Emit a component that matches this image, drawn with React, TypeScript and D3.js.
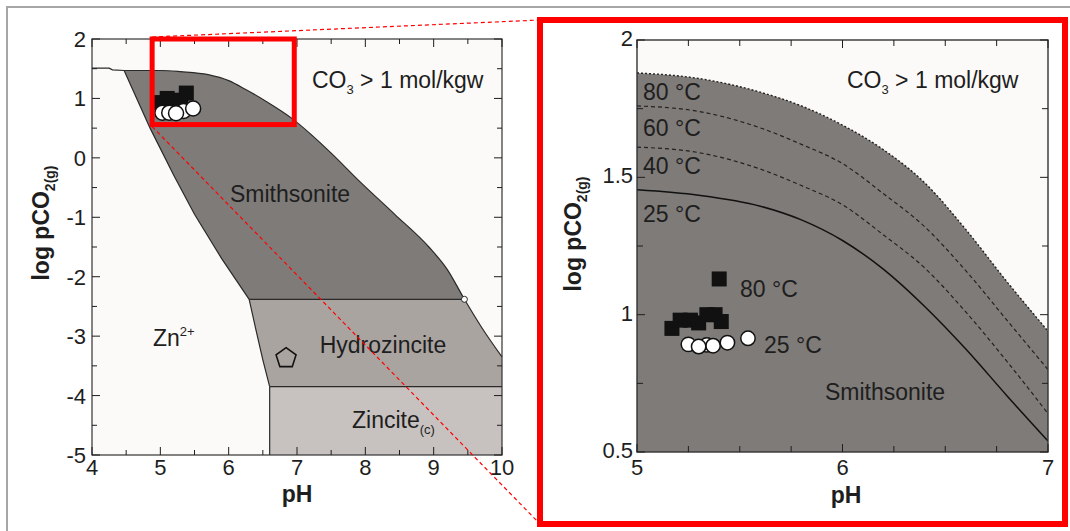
import React from 'react';
import * as d3 from 'd3';

const W = 1070;
const H = 531;
const FONT = '"Liberation Sans", Arial, Helvetica, sans-serif';

// ---- Overview phase diagram (pH vs log pCO2) ----
// Upper edge of the Zn2+ field at very low pH
const znTopEdge: number[][] = [[4.0, 1.51], [4.25, 1.51], [4.3, 1.48], [4.47, 1.47]];
// Upper stability limit of smithsonite / hydrozincite (CO3 > 1 mol/kgw)
const carbonateLimit: number[][] = [
  [4.47, 1.47], [5.0, 1.47], [5.3, 1.45], [5.7, 1.4], [6.0, 1.3], [6.25, 1.15],
  [6.55, 0.95], [6.93, 0.66], [7.2, 0.4], [7.5, 0.08], [7.92, -0.4], [8.43, -0.95],
  [8.93, -1.5], [9.2, -1.88], [9.45, -2.38], [9.7, -2.85], [10.0, -3.35],
];
// Zn2+ / smithsonite boundary
const smithsoniteLeft: number[][] = [[4.47, 1.47], [4.85, 0.5], [5.2, -0.3], [5.5, -0.95], [5.9, -1.7], [6.3, -2.38]];
// Zn2+ / hydrozincite boundary
const hydrozinciteLeft: number[][] = [[6.3, -2.38], [6.4, -2.9], [6.5, -3.4], [6.6, -3.85]];
const smithsoniteBase = -2.38;
const zinciteTop = -3.85;
const zinciteLeftPH = 6.6;
const triplePoint = [9.45, -2.38];
// Sample positions on the overview
const overviewSquares: number[][] = [[5.0, 0.93], [5.1, 1.0], [5.2, 0.97], [5.3, 0.96], [5.38, 1.09]];
const overviewCircles: number[][] = [[5.03, 0.76], [5.13, 0.76], [5.34, 0.79], [5.23, 0.75], [5.48, 0.83]];
const overviewPentagon = [6.84, -3.37];
// Zoom window drawn on the overview
const zoomWindow = { ph0: 4.88, ph1: 6.96, lp0: 0.56, lp1: 2.0 };

const leftXTicks = d3.range(4, 10.001, 0.5);
const leftYTicks = d3.range(-5, 2.001, 0.5);
const leftXLabels = [4, 5, 6, 7, 8, 9, 10];
const leftYLabels = [2, 1, 0, -1, -2, -3, -4, -5];

// ---- Detail view: smithsonite limits at several temperatures ----
const detailPH = [5.0, 5.3, 5.6, 5.8, 6.0, 6.2, 6.4, 6.6, 6.8, 7.0];
const limit25 = [1.455, 1.435, 1.395, 1.345, 1.27, 1.165, 1.03, 0.875, 0.705, 0.54];
const limit40 = [1.61, 1.59, 1.53, 1.47, 1.4, 1.29, 1.17, 1.01, 0.83, 0.64];
const limit60 = [1.76, 1.74, 1.68, 1.62, 1.55, 1.44, 1.32, 1.16, 0.98, 0.8];
const limit80 = [1.88, 1.86, 1.81, 1.76, 1.69, 1.6, 1.48, 1.31, 1.12, 0.94];
const tempLabels = [
  { text: '80 °C', lp: 1.81 },
  { text: '60 °C', lp: 1.68 },
  { text: '40 °C', lp: 1.54 },
  { text: '25 °C', lp: 1.365 },
];
// Samples at 80 °C (squares) and 25 °C (circles)
const samples80: number[][] = [
  [5.17, 0.95], [5.21, 0.98], [5.26, 0.98], [5.3, 0.97], [5.34, 1.0], [5.38, 1.0], [5.41, 0.975], [5.4, 1.13],
];
const samples25: number[][] = [
  [5.25, 0.892], [5.34, 0.89], [5.37, 0.887], [5.3, 0.884], [5.44, 0.898], [5.54, 0.914],
];

const rightXTicks = d3.range(5, 7.001, 0.25);
const rightYTicks = d3.range(0.5, 2.001, 0.25);
const rightXLabels = [5, 6, 7];
const rightYLabels = [0.5, 1, 1.5, 2];

const INK = '#1e1e1e';
const PLOT_BG = '#fcfaf8';
const SMITHSONITE = '#7f7b78';
const HYDROZINCITE = '#aaa4a1';
const ZINCITE = '#c7c2bf';
const RED = '#ff0000';

export default function App() {
  const lx = d3.scaleLinear().domain([4, 10]).range([92, 502]);
  const ly = d3.scaleLinear().domain([-5, 2]).range([455, 39]);
  const rx = d3.scaleLinear().domain([5, 7]).range([637, 1048]);
  const ry = d3.scaleLinear().domain([0.5, 2]).range([452, 40]);

  const lLine = d3.line<number[]>().x((d) => lx(d[0])).y((d) => ly(d[1]));
  const lSmooth = d3.line<number[]>().x((d) => lx(d[0])).y((d) => ly(d[1])).curve(d3.curveMonotoneX);
  const pts = (arr: number[][]) => arr.map((p) => `${lx(p[0])},${ly(p[1])}`).join('L');

  const upper = carbonateLimit.filter((p) => p[0] <= triplePoint[0]);
  const lower = carbonateLimit.filter((p) => p[0] >= triplePoint[0]);
  const smithD = lSmooth(upper) + 'L' + pts([...smithsoniteLeft].reverse()) + 'Z';
  const hydroD =
    lSmooth(lower) + 'L' + pts([[10, zinciteTop], [zinciteLeftPH, zinciteTop]]) + 'L' + pts([...hydrozinciteLeft].reverse()) + 'Z';
  const zinciteD = 'M' + pts([[zinciteLeftPH, zinciteTop], [10, zinciteTop], [10, -5], [zinciteLeftPH, -5]]) + 'Z';

  const rSeries = (vals: number[]) => detailPH.map((ph, i) => [ph, vals[i]]);
  const rSmooth = d3.line<number[]>().x((d) => rx(d[0])).y((d) => ry(d[1])).curve(d3.curveMonotoneX);
  const rArea = d3
    .area<number[]>()
    .x((d) => rx(d[0]))
    .y0(ry(0.5))
    .y1((d) => ry(d[1]))
    .curve(d3.curveMonotoneX);

  const pentagon = d3.range(5).map((i) => {
    const a = -Math.PI / 2 + (i * 2 * Math.PI) / 5;
    return [lx(overviewPentagon[0]) + 10.5 * Math.cos(a), ly(overviewPentagon[1]) + 10.5 * Math.sin(a)];
  });

  const tickStyle = { stroke: INK, strokeWidth: 1 };
  const tickFont = { fontFamily: FONT, fontSize: 22, fill: INK };
  const labelFont = { fontFamily: FONT, fontSize: 23, fill: INK };

  const [lx0, lx1] = lx.range();
  const [ly0, ly1] = ly.range(); // ly0 bottom, ly1 top
  const [rx0, rx1] = rx.range();
  const [ry0, ry1] = ry.range();

  return (
    <svg
      width={W}
      height={H}
      viewBox={`0 0 ${W} ${H}`}
      style={{ position: 'absolute', left: 0, top: 0, background: '#ffffff' }}
    >
      {/* outer page frame */}
      <rect x={7} y={7} width={W + 20} height={H + 20} fill="none" stroke="#a6a6a6" strokeWidth={2} />

      {/* ===== Overview diagram ===== */}
      <rect x={lx0} y={ly1} width={lx1 - lx0} height={ly0 - ly1} fill={PLOT_BG} />
      <path d={smithD} fill={SMITHSONITE} />
      <path d={hydroD} fill={HYDROZINCITE} />
      <path d={zinciteD} fill={ZINCITE} />

      <g fill="none" stroke="#2a2a2a" strokeWidth={1.2}>
        <path d={lLine(znTopEdge) || ''} />
        <path d={lSmooth(carbonateLimit) || ''} />
        <path d={lLine(smithsoniteLeft) || ''} />
        <path d={lLine(hydrozinciteLeft) || ''} />
        <path d={lLine([[6.3, smithsoniteBase], [triplePoint[0], smithsoniteBase]]) || ''} />
        <path d={lLine([[zinciteLeftPH, zinciteTop], [10, zinciteTop]]) || ''} />
        <path d={lLine([[zinciteLeftPH, zinciteTop], [zinciteLeftPH, -5]]) || ''} />
      </g>
      <circle cx={lx(triplePoint[0])} cy={ly(triplePoint[1])} r={3} fill="#ffffff" stroke="#2a2a2a" strokeWidth={1} />

      {/* overview samples */}
      {overviewSquares.map((p, i) => (
        <rect key={`os${i}`} x={lx(p[0]) - 7.5} y={ly(p[1]) - 7.5} width={15} height={15} fill="#111" />
      ))}
      {overviewCircles.map((p, i) => (
        <circle key={`oc${i}`} cx={lx(p[0])} cy={ly(p[1])} r={7.5} fill="#ffffff" stroke="#111" strokeWidth={1.5} />
      ))}
      <polygon points={pentagon.map((p) => p.join(',')).join(' ')} fill="none" stroke="#111" strokeWidth={1.6} />

      {/* overview frame and ticks */}
      <rect x={lx0} y={ly1} width={lx1 - lx0} height={ly0 - ly1} fill="none" stroke="#333" strokeWidth={1.2} />
      {leftXTicks.map((t) => {
        const len = Number.isInteger(t) ? 8 : 5;
        return (
          <g key={`lxt${t}`}>
            <line x1={lx(t)} x2={lx(t)} y1={ly0} y2={ly0 - len} {...tickStyle} />
            <line x1={lx(t)} x2={lx(t)} y1={ly1} y2={ly1 + len} {...tickStyle} />
          </g>
        );
      })}
      {leftYTicks.map((t) => {
        const len = Number.isInteger(t) ? 8 : 5;
        return (
          <g key={`lyt${t}`}>
            <line x1={lx0} x2={lx0 + len} y1={ly(t)} y2={ly(t)} {...tickStyle} />
            <line x1={lx1} x2={lx1 - len} y1={ly(t)} y2={ly(t)} {...tickStyle} />
          </g>
        );
      })}
      {leftXLabels.map((t) => (
        <text key={`lxl${t}`} x={lx(t)} y={ly0 + 20} textAnchor="middle" {...tickFont}>
          {String(t)}
        </text>
      ))}
      {leftYLabels.map((t) => (
        <text key={`lyl${t}`} x={lx0 - 6} y={ly(t) + 8} textAnchor="end" {...tickFont}>
          {String(t)}
        </text>
      ))}
      <text x={(lx0 + lx1) / 2} y={502} textAnchor="middle" fontFamily={FONT} fontSize={23} fontWeight="bold" fill={INK}>
        pH
      </text>
      <text
        transform={`translate(49,223) rotate(-90)`}
        textAnchor="middle"
        fontFamily={FONT}
        fontSize={23}
        fontWeight="bold"
        fill={INK}
      >
        log pCO
        <tspan fontSize={14} dy={6}>2(g)</tspan>
      </text>

      {/* overview labels */}
      <text x={312} y={88} {...labelFont}>
        CO<tspan fontSize={13} dy={6}>3</tspan>
        <tspan dy={-6}> &gt; 1 mol/kgw</tspan>
      </text>
      <text x={290} y={202} textAnchor="middle" {...labelFont}>Smithsonite</text>
      <text x={383} y={353} textAnchor="middle" {...labelFont}>Hydrozincite</text>
      <text x={352} y={428} {...labelFont}>
        Zincite<tspan fontSize={13} dy={6}>(c)</tspan>
      </text>
      <text x={153} y={346} {...labelFont}>
        Zn<tspan fontSize={13} dy={-10}>2+</tspan>
      </text>

      {/* ===== Detail view ===== */}
      <defs>
        <clipPath id="detail-clip">
          <rect x={rx0} y={ry1} width={rx1 - rx0} height={ry0 - ry1} />
        </clipPath>
      </defs>
      <rect x={rx0} y={ry1} width={rx1 - rx0} height={ry0 - ry1} fill={PLOT_BG} />
      <g clipPath="url(#detail-clip)">
        <path d={rArea(rSeries(limit80)) || ''} fill={SMITHSONITE} />
        <path d={rSmooth(rSeries(limit80)) || ''} fill="none" stroke="#222" strokeWidth={1.4} strokeDasharray="2 2" />
        <path d={rSmooth(rSeries(limit60)) || ''} fill="none" stroke="#222" strokeWidth={1.2} strokeDasharray="4 3" />
        <path d={rSmooth(rSeries(limit40)) || ''} fill="none" stroke="#222" strokeWidth={1.2} strokeDasharray="4 3" />
        <path d={rSmooth(rSeries(limit25)) || ''} fill="none" stroke="#111" strokeWidth={1.5} />
      </g>
      {tempLabels.map((t) => (
        <text key={t.text + t.lp} x={rx0 + 6} y={ry(t.lp) + 8} {...labelFont}>
          {t.text}
        </text>
      ))}

      {samples80.map((p, i) => (
        <rect key={`s80${i}`} x={rx(p[0]) - 7.5} y={ry(p[1]) - 7.5} width={15} height={15} fill="#111" />
      ))}
      {samples25.map((p, i) => (
        <circle key={`s25${i}`} cx={rx(p[0])} cy={ry(p[1])} r={7.2} fill="#ffffff" stroke="#111" strokeWidth={1.5} />
      ))}
      <text x={740} y={297} {...labelFont}>80 °C</text>
      <text x={764} y={353} {...labelFont}>25 °C</text>
      <text x={885} y={400} textAnchor="middle" {...labelFont}>Smithsonite</text>
      <text x={847} y={88} {...labelFont}>
        CO<tspan fontSize={13} dy={6}>3</tspan>
        <tspan dy={-6}> &gt; 1 mol/kgw</tspan>
      </text>

      <rect x={rx0} y={ry1} width={rx1 - rx0} height={ry0 - ry1} fill="none" stroke="#333" strokeWidth={1.4} />
      {rightXTicks.map((t) => {
        const len = Number.isInteger(t) ? 8 : 6;
        return (
          <g key={`rxt${t}`}>
            <line x1={rx(t)} x2={rx(t)} y1={ry0} y2={ry0 - len} {...tickStyle} />
            <line x1={rx(t)} x2={rx(t)} y1={ry1} y2={ry1 + len} {...tickStyle} />
          </g>
        );
      })}
      {rightYTicks.map((t) => {
        const len = Number.isInteger(t * 2) ? 8 : 6;
        return (
          <g key={`ryt${t}`}>
            <line x1={rx0} x2={rx0 + len} y1={ry(t)} y2={ry(t)} {...tickStyle} />
            <line x1={rx1} x2={rx1 - len} y1={ry(t)} y2={ry(t)} {...tickStyle} />
          </g>
        );
      })}
      {rightXLabels.map((t) => (
        <text key={`rxl${t}`} x={rx(t)} y={ry0 + 23} textAnchor="middle" {...tickFont}>
          {String(t)}
        </text>
      ))}
      {rightYLabels.map((t) => (
        <text key={`ryl${t}`} x={rx0 - 4} y={ry(t) + 6} textAnchor="end" {...tickFont}>
          {String(t)}
        </text>
      ))}
      <text x={846} y={503} textAnchor="middle" fontFamily={FONT} fontSize={23} fontWeight="bold" fill={INK}>
        pH
      </text>
      <text
        transform={`translate(581,234) rotate(-90)`}
        textAnchor="middle"
        fontFamily={FONT}
        fontSize={23}
        fontWeight="bold"
        fill={INK}
      >
        log pCO
        <tspan fontSize={14} dy={6}>2(g)</tspan>
      </text>

      {/* zoom window and connectors */}
      <rect
        x={lx(zoomWindow.ph0)}
        y={ly(zoomWindow.lp1)}
        width={lx(zoomWindow.ph1) - lx(zoomWindow.ph0)}
        height={ly(zoomWindow.lp0) - ly(zoomWindow.lp1)}
        fill="none"
        stroke={RED}
        strokeWidth={5}
      />
      <line x1={lx(zoomWindow.ph0)} y1={ly(zoomWindow.lp1) - 2} x2={540} y2={20} stroke={RED} strokeWidth={1.2} strokeDasharray="4 3" />
      <line x1={lx(zoomWindow.ph0)} y1={ly(zoomWindow.lp0) + 2} x2={540} y2={524} stroke={RED} strokeWidth={1.2} strokeDasharray="4 3" />
      <rect x={540} y={20} width={525} height={504} fill="none" stroke={RED} strokeWidth={6} />
    </svg>
  );
}
